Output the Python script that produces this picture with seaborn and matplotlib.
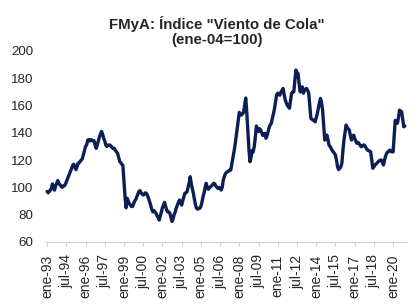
import numpy as np
import pandas as pd
import matplotlib
matplotlib.use("Agg")
import matplotlib.pyplot as plt
import seaborn as sns

# Índice "Viento de Cola" (ene-04=100), datos mensuales ene-93 .. dic-20
y1993 = [97, 96, 97, 98, 99, 102.5, 100, 98, 101, 103, 105, 103]
y1994 = [102, 101, 100, 101, 101, 102, 104, 106, 108, 110, 112, 114]
y1995 = [116, 117, 115, 113, 115, 117.6, 118, 119, 120, 121, 124, 127]
y1996 = [130, 131, 134.5, 135, 134, 135, 134.7, 134, 134.2, 131, 128.6, 131]
y1997 = [134, 137, 139, 141, 139, 136, 134, 131, 130, 131, 131, 131]
y1998 = [130, 129, 128.5, 128.6, 127, 126, 125, 122, 119, 118, 117, 116]
y1999 = [104, 93, 85, 92, 90, 88, 87, 86, 86, 88, 90, 91]
y2000 = [93, 95, 97, 97.6, 96, 95, 94.4, 95, 96, 95.6, 94, 92]
y2001 = [89.5, 87, 84, 82, 83, 82, 81, 79, 78, 76, 79, 82]
y2002 = [85, 87, 89, 86, 83.4, 82, 82, 81, 78, 75, 77, 80]
y2003 = [82, 85, 87, 89, 90.7, 89, 87, 90, 93, 95.6, 96, 96.8]
y2004 = [100, 103, 107.8, 103, 99, 95.6, 91, 87, 84.7, 84, 84.5, 84.7]
y2005 = [86, 89, 93, 96, 100, 103, 100, 98.6, 99.5, 100.5, 101, 102]
y2006 = [103, 102.5, 101, 100, 99.3, 100, 99, 98, 100, 105.4, 108, 110]
y2007 = [111, 111.5, 112, 112.7, 112.7, 117, 121.3, 126, 131, 137, 143, 149]
y2008 = [155, 154, 153, 154, 155, 160, 165.5, 155, 142, 128, 118.8, 122]
y2009 = [127, 126, 130, 137, 145, 143, 141, 143, 142, 140, 138, 139]
y2010 = [139.6, 136, 138, 141, 144, 146, 147, 151, 154, 158, 163, 168]
y2011 = [169, 168, 167.6, 170, 171, 172.5, 168, 164, 162, 160, 159, 158]
y2012 = [164, 169, 170, 170, 178, 186, 184, 183.5, 176, 170, 172, 173.7]
y2013 = [169, 171, 172, 172.5, 171, 169, 160, 150.6, 150, 149.3, 149, 148]
y2014 = [151, 154, 158, 162, 165.2, 162, 156.6, 146, 134.7, 136, 138.3, 135]
y2015 = [131, 130, 128.6, 127, 126, 125, 123.7, 120, 115, 113, 114, 115]
y2016 = [117.6, 127, 134.7, 140, 145.7, 144, 143, 142, 138, 134.7, 136, 138.3]
y2017 = [136, 134, 132.3, 133, 132.3, 131, 129.8, 130, 131, 131, 130, 128.5]
y2018 = [127.3, 127, 126.5, 126, 120, 114, 115, 116.4, 117, 118, 118.8, 119.5]
y2019 = [120, 120, 118, 116.4, 120, 123, 125, 126, 126.5, 127.3, 126.5, 126]
y2020 = [126, 138, 149, 148, 147, 151, 156.6, 156, 155.4, 150, 144.4, 145]

tick_labels = ["ene-93", "jul-94", "ene-96", "jul-97", "ene-99", "jul-00",
               "ene-02", "jul-03", "ene-05", "jul-06", "ene-08", "jul-09",
               "ene-11", "jul-12", "ene-14", "jul-15", "ene-17", "jul-18",
               "ene-20"]

values = (y1993 + y1994 + y1995 + y1996 + y1997 + y1998 + y1999 + y2000 +
          y2001 + y2002 + y2003 + y2004 + y2005 + y2006 + y2007 + y2008 +
          y2009 + y2010 + y2011 + y2012 + y2013 + y2014 + y2015 + y2016 +
          y2017 + y2018 + y2019 + y2020)

df = pd.DataFrame({"mes": np.arange(len(values)), "indice": values})

sns.set_style("white")
plt.rcParams["font.family"] = ["Liberation Sans", "DejaVu Sans"]

fig = plt.figure(figsize=(4.2, 3.07), dpi=100)
ax = fig.add_axes([0.107, 0.212, 0.862, 0.622])

sns.lineplot(data=df, x="mes", y="indice", ax=ax, color="#0c1f55",
             linewidth=2.4)

ax.set_xlim(-2, 337)
ax.set_ylim(60, 200)
ax.set_yticks(range(60, 201, 20))
ax.set_xticks(np.arange(len(tick_labels)) * 18)
ax.set_xticklabels(tick_labels, rotation=90)
ax.set_xlabel("")
ax.set_ylabel("")

for side in ["left", "top", "right"]:
    ax.spines[side].set_visible(False)
ax.spines["bottom"].set_color("#d0d0d0")
ax.spines["bottom"].set_linewidth(0.8)
ax.tick_params(axis="x", length=3, width=0.8, color="#d0d0d0",
               labelsize=10, pad=6, bottom=True)
ax.tick_params(axis="y", length=0, labelsize=9.6, pad=8.5)

fig.text(0.517, 0.897, "FMyA: Índice \"Viento de Cola\"\n(ene-04=100)",
         ha="center", va="center", fontsize=10.8, fontweight="bold",
         linespacing=1.1)

fig.savefig("out.png", dpi=100)
